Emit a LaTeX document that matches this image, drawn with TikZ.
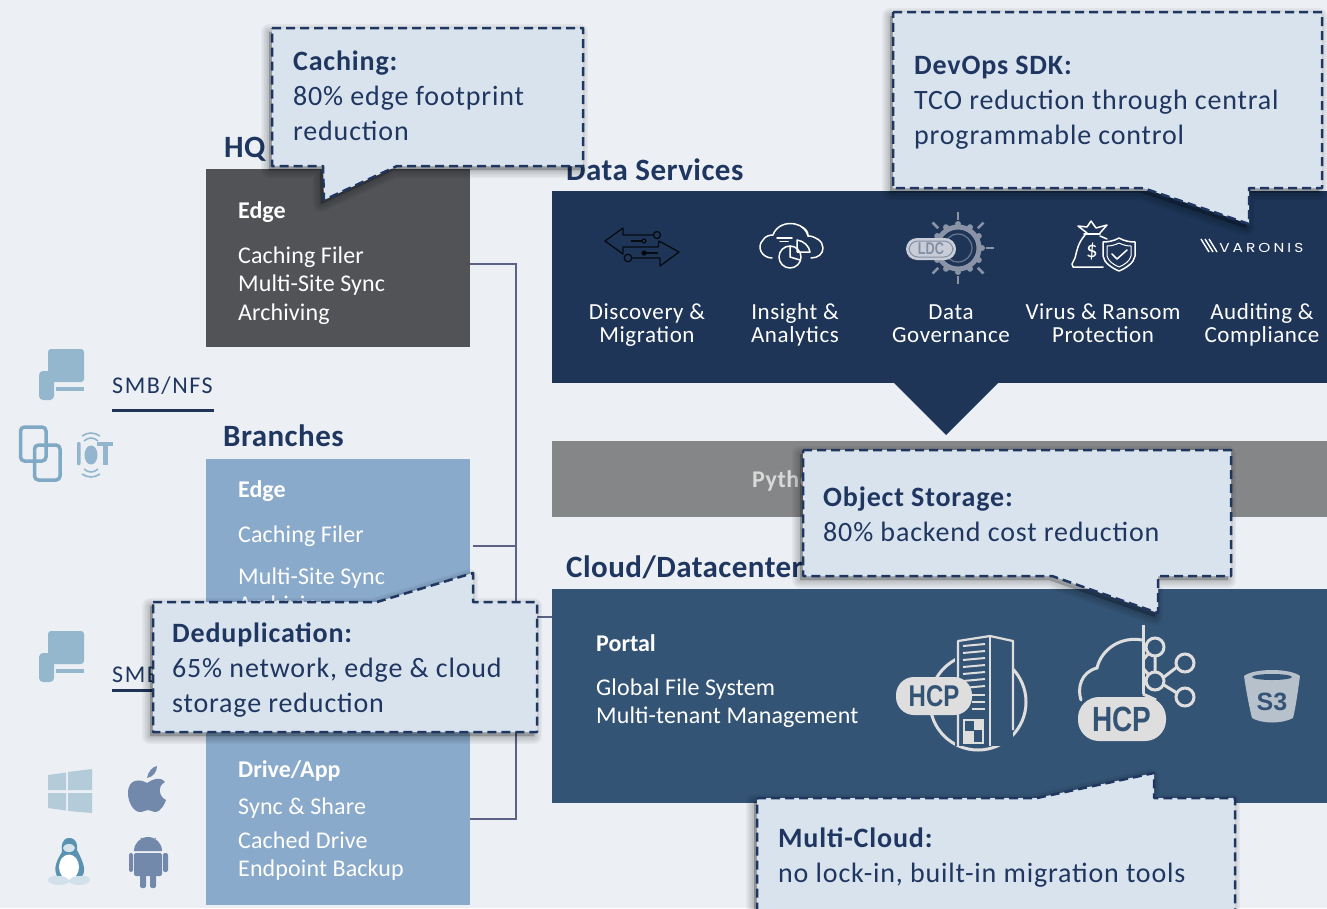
\documentclass[tikz,border=0pt]{standalone}
\usepackage{fontspec}
\setmainfont{Carlito}
\newfontfamily\iconfont{Liberation Sans}
\newfontfamily\brandfont{Poppins}
\usetikzlibrary{calc}
\definecolor{pagebg}{HTML}{ECF0F4}
\definecolor{callfill}{HTML}{D9E3EE}
\definecolor{navy}{HTML}{1E3557}
\definecolor{inknavy}{HTML}{1F3660}
\definecolor{edgegray}{HTML}{525357}
\definecolor{paleblue}{HTML}{8AAACB}
\definecolor{midblue}{HTML}{345475}
\definecolor{bargray}{HTML}{858688}
\definecolor{busline}{HTML}{5B6285}
\definecolor{devblue}{HTML}{94B7CE}
\definecolor{tabblue}{HTML}{80A9C5}
\definecolor{winblue}{HTML}{B4CBDA}
\definecolor{osslate}{HTML}{7289AB}
\definecolor{pillgray}{HTML}{DEDEDE}
\definecolor{sungray}{HTML}{8A94A6}
\definecolor{pilldim}{HTML}{C9CDD8}
\definecolor{penguin}{HTML}{5A93B2}
\tikzset{
  panel/.style={draw=none,inner sep=0pt,outer sep=0pt,anchor=north west},
  calltext/.style={anchor=north west,inner sep=0pt,align=left,text=inknavy,font=\fontsize{28}{35}\selectfont\addfontfeature{LetterSpace=3}},
  title/.style={anchor=base west,inner sep=0pt,text=inknavy,font=\bfseries\fontsize{31}{36}\selectfont\addfontfeature{LetterSpace=1.5}},
  boxtext/.style={anchor=north west,inner sep=0pt,align=left,text=white,font=\fontsize{24}{28.5}\selectfont\addfontfeature{LetterSpace=0.5}},
  boxhead/.style={anchor=base west,inner sep=0pt,text=white,font=\bfseries\fontsize{24}{28}\selectfont},
  svc/.style={anchor=north,inner sep=0pt,align=center,text=white,font=\fontsize{23}{23}\selectfont\addfontfeature{LetterSpace=2.5}},
  proto/.style={anchor=base west,inner sep=0pt,text=inknavy,font=\fontsize{24}{28}\selectfont\addfontfeature{LetterSpace=6.5}},
  bus/.style={draw=busline,line width=2.5pt},
  dashline/.style={draw=inknavy,line width=2.5pt,dash pattern=on 9pt off 5pt,line join=round},
  wline/.style={draw=white,line width=1.5pt,line cap=round,line join=round,fill=none},
  iconlabel/.style={inner sep=0pt,text=midblue,xscale=.8},
}
\newcommand{\callshape}[1]{%
  \foreach \w in {16,13,10,7,4,1}{%
    \path[shift={(-3,4)},fill=black,draw=black,opacity=.04,line width=\w pt,line join=round] #1;}%
  \path[fill=callfill,dashline] #1;}
\newcommand{\deviceicon}[1]{%
  \begin{scope}[shift={(0,#1)}]
    \fill[devblue,rounded corners=3pt] (48,349) rectangle (84,382);
    \fill[devblue] (56,387) rectangle (84,390.5);
    \fill[devblue,rounded corners=4pt] (39,371) rectangle (54,400);
  \end{scope}}
\begin{document}
\begin{tikzpicture}[x=1pt,y=-1pt]
\useasboundingbox (0,0) rectangle (1327,908);
\clip (0,0) rectangle (1327,908);
\fill[pagebg] (0,0) rectangle (1327,908);

% --- connectors
\coordinate (busT) at (516,264);
\coordinate (busB) at (516,819);
\coordinate (busM) at (516,546);
\coordinate (busP) at (516,617);

% --- titles under the callouts
\node[title] (tHQ) at (224,157) {HQ};
\node[title] (tBranches) at (223,446) {Branches};
\node[title] (tData) at (566,180) {Data Services};
\node[title] (tCloud) at (566,577) {Cloud/Datacenter};

% --- panels
\node[panel,fill=edgegray,minimum width=264pt,minimum height=178pt] (hq) at (206,169) {};
\node[panel,fill=paleblue,minimum width=264pt,minimum height=221pt] (branch) at (206,459) {};
\node[panel,fill=paleblue,minimum width=264pt,minimum height=226pt] (drive) at (206,679) {};
\node[panel,fill=navy,minimum width=775pt,minimum height=192pt] (dsvc) at (552,191) {};
\fill[navy] (893,382) -- (999,382) -- (946,435) -- cycle;
\node[panel,fill=bargray,minimum width=775pt,minimum height=76pt] (pybar) at (552,441) {};
\node[panel,fill=midblue,minimum width=775pt,minimum height=214pt] (cloud) at (552,589) {};

\draw[bus] ($(hq.north east)+(0,95)$) -- (busT) -- (busB) -- ($(drive.north east)+(0,140)$);
\draw[bus] ($(branch.north east)+(3,87)$) -- (busM);
\draw[bus] (busP) -- ($(cloud.north west)+(0,28)$);

% --- panel text
\node[boxhead] (e1) at (238,218) {Edge};
\node[boxtext] (e1t) at (238,243) {\strut Caching Filer\\Multi-Site Sync\\Archiving};
\node[boxhead] (e2) at (238,497) {Edge};
\node[boxtext] (e2a) at (238,522) {\strut Caching Filer};
\node[boxtext] (e2b) at (238,564) {\strut Multi-Site Sync\\Archiving};
\node[boxhead] (d1) at (238,777) {Drive/App};
\node[boxtext] (d1a) at (238,794) {\strut Sync \& Share};
\node[boxtext] (d1b) at (238,828) {\strut Cached Drive\\Endpoint Backup};
\node[boxhead] (p1) at (596,651) {Portal};
\node[boxtext] (p1t) at (596,675) {\strut Global File System\\Multi-tenant Management};
\node[anchor=base west,inner sep=0pt,text=black!15,font=\bfseries\fontsize{24}{28}\selectfont\addfontfeature{LetterSpace=2}] (py) at (752,487) {Python};

% --- services
\node[svc] (s1) at (647,303) {\strut Discovery \&\\Migration};
\node[svc] (s2) at (795,303) {\strut Insight \&\\Analytics};
\node[svc] (s3) at (951,303) {\strut Data\\Governance};
\node[svc] (s4) at (1103,303) {\strut Virus \& Ransom\\Protection};
\node[svc] (s5) at (1262,303) {\strut Auditing \&\\Compliance};

% --- protocol labels
\node[proto] (smb1) at (112,393) {SMB/NFS};
\coordinate (u1a) at (112,410); \coordinate (u1b) at (214,410);
\draw[navy,line width=3pt] (u1a) -- (u1b);
\node[proto] (smb2) at (112,682) {SMB/NFS};
\coordinate (u2a) at (112,690); \coordinate (u2b) at (214,690);
\draw[navy,line width=3pt] (u2a) -- (u2b);

% --- client icons
\deviceicon{0}
\deviceicon{282}
\draw[tabblue,line width=3.5pt,rounded corners=4pt] (20.5,427) rectangle (46,461);
\draw[tabblue,line width=3.5pt,rounded corners=4pt] (34.5,445) rectangle (60,480);
\begin{scope}[tabblue!85]
  \fill[rounded corners=1pt] (77,442) rectangle (80.5,465);
  \fill (91,455) ellipse [x radius=6.5pt,y radius=9.5pt];
  \fill (97,442) rectangle (113,446);
  \fill (103,442) rectangle (108,465);
  \draw[line width=1.6pt] (84,441) .. controls (88,437) and (94,437) .. (98,441);
  \draw[line width=1.6pt] (82,436) .. controls (88,432) and (94,432) .. (100,436);
  \draw[line width=1.6pt] (84,469) .. controls (88,473) and (94,473) .. (98,469);
  \draw[line width=1.6pt] (82,474) .. controls (88,478) and (94,478) .. (100,474);
\end{scope}
% windows
\fill[winblue] (48,775) -- (66,772.5) -- (66,790) -- (48,790) -- cycle;
\fill[winblue] (68,772) -- (92,769) -- (92,790) -- (68,790) -- cycle;
\fill[winblue] (48,793) -- (66,793) -- (66,810.5) -- (48,808) -- cycle;
\fill[winblue] (68,793) -- (92,793) -- (92,813) -- (68,811) -- cycle;
% apple
\fill[osslate] (147,783) .. controls (141,779) and (128,778) .. (128,793)
  .. controls (128,803) and (134,812) .. (140,812)
  .. controls (144,812) and (145,810) .. (148,810)
  .. controls (151,810) and (152,812) .. (156,812)
  .. controls (160,812) and (165,804) .. (166,800)
  .. controls (159,797) and (157,786) .. (165,782)
  .. controls (160,776) and (153,779) .. (147,783) -- cycle;
\fill[osslate] (147,778) .. controls (148,772) and (152,767) .. (157,766)
  .. controls (157,772) and (153,777) .. (147,778) -- cycle;
% penguin
\fill[winblue!60!white] (59,880) ellipse [x radius=11pt,y radius=5pt];
\fill[winblue!60!white] (79,880) ellipse [x radius=11pt,y radius=5pt];
\fill[penguin] (69,838) .. controls (62,838) and (61,846) .. (62,852)
  .. controls (57,860) and (53,868) .. (57,876) -- (82,876)
  .. controls (88,870) and (80,856) .. (77,850)
  .. controls (78,844) and (76,838) .. (69,838) -- cycle;
\fill[white] (69,867) ellipse [x radius=10pt,y radius=12.5pt];
\fill[white!75!penguin] (69,848) ellipse [x radius=6pt,y radius=4pt];
\fill[winblue!60!white] (59,880) ellipse [x radius=9pt,y radius=4pt];
\fill[winblue!60!white] (79,880) ellipse [x radius=9pt,y radius=4pt];
% android
\begin{scope}[osslate]
  \fill (134,851) arc[start angle=180,end angle=360,x radius=14pt,y radius=-14pt] -- cycle;
  \fill[rounded corners=2pt] (134,853) rectangle (162,876);
  \fill[rounded corners=2pt] (129,853) rectangle (133,872);
  \fill[rounded corners=2pt] (163,853) rectangle (168,872);
  \fill[rounded corners=2pt] (140,874) rectangle (146,888);
  \fill[rounded corners=2pt] (150,874) rectangle (156,888);
  \draw[line width=1pt] (141,838) -- (143,841) (156,838) -- (153,841);
\end{scope}

% --- service icons
\begin{scope}[draw=black!80!navy,line width=1.3pt,line join=round]
  \draw (653,235) -- (623,235) -- (623,228) -- (605,241) -- (623,254) -- (623,247) -- (658,247) -- (659,241) -- (679,252) -- (660,266) -- (660,258) -- (632,258);
  \draw (657,235) circle (3.5pt);
  \draw (628,258) circle (3.8pt);
  \draw (631,241) -- (642,241); \draw (644,241) circle (2pt);
  \draw (646,253) -- (658,253); \draw[fill=black] (644,253) circle (2pt);
\end{scope}
\begin{scope}
  \draw[wline] (772,258) .. controls (762,258) and (756,247) .. (763,240)
    .. controls (765,236) and (770,235) .. (773,235)
    .. controls (776,226) and (786,222) .. (795,224)
    .. controls (802,225) and (807,231) .. (808,236)
    .. controls (815,236) and (823,241) .. (823,248)
    .. controls (823,254) and (818,258) .. (811,258);
  \draw[wline] (777,238) -- (792,238) (780,241.5) -- (788,241.5);
  \draw[wline] (790,257) circle (11pt);
  \draw[wline] (790,246) -- (790,257) -- (800,260);
  \draw[wline] (797,240) .. controls (804,241) and (809,246) .. (810,252) -- (797,252) -- cycle;
  \draw[wline] (802,227) .. controls (806,229) and (808,232) .. (808,236);
\end{scope}
% LDC sun
\begin{scope}
  \foreach \a in {-90,-45,0,45,90,-135,135}{
    \draw[sungray,line width=2.5pt] (958,248)++(\a:28) -- ++(\a:8);}
  \foreach \a in {0,30,...,330}{\fill[sungray] (958,248)++(\a:24) circle (3pt);}
  \draw[sungray,line width=5pt] (958,248) circle (21pt);
  \fill[navy] (958,248) circle (18pt);
  \draw[sungray!70!navy,line width=1.2pt] (958,248) circle (14pt);
  \fill[pilldim,rounded corners=11pt] (906,238) rectangle (956,260);
  \draw[navy!40!pilldim,line width=1pt,rounded corners=9pt] (909,241) rectangle (953,257);
  \node[inner sep=0pt,text=navy!55!white,xscale=.75,font=\iconfont\bfseries\fontsize{17}{17}\selectfont] (ldc) at (931,249) {LDC};
\end{scope}
% money bag and shield
\begin{scope}
  \draw[wline] (1087,233) -- (1078,226) -- (1087,227) -- (1091,221) -- (1096,228) -- (1107,225) -- (1100,233);
  \draw[wline] (1084,234) -- (1100,234);
  \draw[wline] (1085,235) .. controls (1078,243) and (1077,250) .. (1075,258) -- (1072,264) -- (1073,267) -- (1103,267);
  \draw[wline] (1100,236) -- (1107,239);
  \node[inner sep=0pt,text=white,font=\fontsize{23}{23}\selectfont] (dollar) at (1092,252) {\$};
  \draw[wline,fill=navy] (1119,238) .. controls (1124,241) and (1130,242) .. (1135,242) -- (1135,256) .. controls (1134,263) and (1126,268) .. (1119,271) .. controls (1112,268) and (1104,263) .. (1103,256) -- (1103,242) .. controls (1108,242) and (1114,241) .. (1119,238) -- cycle;
  \draw[white,line width=1pt,line join=round] (1119,243) .. controls (1123,245) and (1127,246) .. (1131,246) -- (1131,256) .. controls (1130,261) and (1124,265) .. (1119,267) .. controls (1114,265) and (1108,261) .. (1107,256) -- (1107,246) .. controls (1111,246) and (1115,245) .. (1119,243) -- cycle;
  \draw[wline] (1112,254) -- (1117,259) -- (1127,250);
\end{scope}
% varonis
\draw[white,line width=1.4pt] (1201,239) -- (1209,252) (1205,239) -- (1213,252) (1209,239) -- (1217,252);
\node[anchor=base west,inner sep=0pt,text=white,xscale=1.18,font=\brandfont\fontsize{13}{13}\selectfont\addfontfeature{LetterSpace=20}] (varonis) at (1219,252) {VARONIS};

% --- HCP building icon
\begin{scope}
  \draw[pillgray,line width=3pt] (978,702) circle (48pt);
  \fill[midblue] (955,636) rectangle (1013,746);
  \draw[pillgray,line width=2.2pt,line join=round] (958,746) -- (958,641) -- (990,636) -- (1013,641) -- (1013,730);
  \draw[pillgray,line width=2.2pt] (990,636) -- (990,746);
  \foreach \y in {646,653,660,667,674,681,688}{\draw[pillgray,line width=2pt] (963,\y-0) -- (985,\y-2);}
  \foreach \y in {695,702,709}{\draw[pillgray,line width=2pt] (972,\y) -- (985,\y);}
  \fill[pillgray] (974,720) rectangle (983,730);
  \fill[pillgray] (964,731) rectangle (974,743);
  \draw[pillgray,line width=1.4pt] (964,720) rectangle (983,743);
  \fill[pillgray,rounded corners=18pt] (896,677) rectangle (972,715);
  \node[iconlabel,font=\iconfont\bfseries\fontsize{30}{30}\selectfont] (hcp1) at (934,696) {HCP};
\end{scope}
% --- HCP cloud icon
\begin{scope}
  \draw[pillgray,line width=3pt,line cap=round] (1081,700) .. controls (1077,688) and (1081,672) .. (1097,668)
    .. controls (1101,650) and (1120,636) .. (1142,640);
  \draw[pillgray,line width=3pt] (1143,625) -- (1143,694);
  \draw[pillgray,line width=3pt] (1143,694) -- (1156,700) (1143,668) -- (1148,674) (1143,660) -- (1148,654);
  \draw[pillgray,line width=3pt] (1155,656) -- (1155,672) (1164,677) -- (1177,667) (1164,685) -- (1177,693);
  \foreach \c in {(1155,647),(1155,681),(1185,663),(1185,697)}{\draw[pillgray,line width=3pt] \c circle (9pt);}
  \fill[pillgray,rounded corners=21pt] (1078,697) rectangle (1166,741);
  \node[iconlabel,font=\iconfont\bfseries\fontsize{35}{35}\selectfont] (hcp2) at (1122,719) {HCP};
\end{scope}
% --- S3
\begin{scope}
  \fill[black!8!midblue!35!white] (1244,676) .. controls (1246,690) and (1249,706) .. (1252,718)
     .. controls (1262,724) and (1282,724) .. (1293,718)
     .. controls (1296,706) and (1298,690) .. (1300,676)
     .. controls (1290,668) and (1254,668) .. (1244,676) -- cycle;
  \fill[midblue] (1272,677) ellipse [x radius=20pt,y radius=3pt];
  \node[inner sep=0pt,text=midblue,font=\iconfont\bfseries\fontsize{25}{25}\selectfont] (s3lab) at (1272,702) {S3};
\end{scope}

% --- callouts
\callshape{(272,28) -- (583,28) -- (583,166) -- (397,166) -- (324,200) -- (323,166) -- (272,166) -- cycle}
\node[calltext] (cCaching) at (293,46) {\strut\textbf{Caching:}\\80\% edge footprint\\reduction};

\callshape{(893,12) -- (1322,12) -- (1322,188) -- (1249,188) -- (1249,224) -- (1143,188) -- (893,188) -- cycle}
\node[calltext] (cDevops) at (914,49.5) {\strut\textbf{DevOps SDK:}\\TCO reduction through central\\programmable control};

\callshape{(803,450) -- (1231,450) -- (1231,576) -- (1158,576) -- (1158,613) -- (1052,576) -- (803,576) -- cycle}
\node[calltext] (cObject) at (823,481.5) {\strut\textbf{Object Storage:}\\80\% backend cost reduction};

\callshape{(757,798) -- (1037,798) -- (1154,773) -- (1154,798) -- (1235,798) -- (1235,930) -- (757,930) -- cycle}
\node[calltext] (cMulti) at (778,822.5) {\strut\textbf{Multi-Cloud:}\\no lock-in, built-in migration tools};

\callshape{(153,602) -- (377,602) -- (473,573) -- (473,602) -- (537,602) -- (537,732) -- (153,732) -- cycle}
\node[calltext] (cDedup) at (172,617.5) {\strut\textbf{Deduplication:}\\65\% network, edge \& cloud\\storage reduction};
\end{tikzpicture}
\end{document}
